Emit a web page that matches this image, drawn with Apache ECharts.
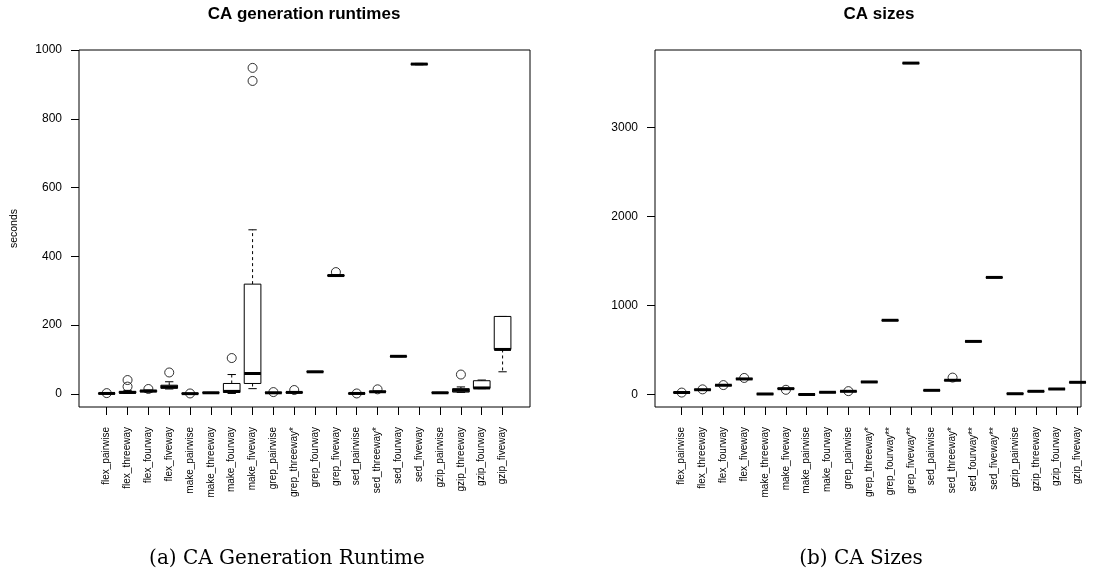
<!DOCTYPE html>
<html>
<head>
<meta charset="utf-8">
<script src="https://cdn.jsdelivr.net/npm/echarts@6/dist/echarts.min.js"></script>
<style>
html,body{margin:0;padding:0;background:#fff;}
#chart{width:1097px;height:577px;}
</style>
</head>
<body>
<div id="chart"></div>
<script>
// ---------- Data: (a) CA generation runtimes (seconds) ----------
const runtimeCategories = ["flex_pairwise","flex_threeway","flex_fourway","flex_fiveway",
  "make_pairwise","make_threeway","make_fourway","make_fiveway",
  "grep_pairwise","grep_threeway*","grep_fourway","grep_fiveway",
  "sed_pairwise","sed_threeway*","sed_fourway","sed_fiveway",
  "gzip_pairwise","gzip_threeway","gzip_fourway","gzip_fiveway"];
const runtimeMin    = [0, 1, 5, 14, 0, 2, 1, 15, 2, 3, 63, 342, 0, 5, 108, 957, 2, 4, 15, 64];
const runtimeQ1     = [0.5, 2, 6, 16, 0, 2.5, 4, 30, 2.5, 3.5, 63.5, 343, 0.5, 5.5, 108.5, 958, 2.5, 5, 16, 129];
const runtimeMedian = [1, 4, 8, 20, 0.5, 3, 7, 59, 3, 4, 64, 344, 1, 6, 109, 959, 3, 10, 17, 129];
const runtimeQ3     = [1.5, 7, 10, 25, 1, 3.5, 30, 319, 3.5, 5, 64.5, 345, 1.5, 7, 109.5, 960, 3.5, 15, 38, 225];
const runtimeMax    = [2, 10, 11, 35, 1, 4, 56, 477, 4, 6, 65, 346, 2, 8, 110, 961, 4, 20, 40, 225];
const runtimeOutliers = [[0, 2], [1, 21], [1, 40], [2, 14], [3, 62], [4, 1], [6, 104],
  [7, 910], [7, 948], [8, 5], [9, 11], [11, 354], [12, 1], [13, 13], [17, 56]];
const runtimeTicks = [0, 200, 400, 600, 800, 1000];

// ---------- Data: (b) CA sizes ----------
const sizeCategories = ["flex_pairwise","flex_threeway","flex_fourway","flex_fiveway",
  "make_threeway","make_fiveway","make_pairwise","make_fourway",
  "grep_pairwise","grep_threeway*","grep_fourway**","grep_fiveway**",
  "sed_pairwise","sed_threeway*","sed_fourway**","sed_fiveway**",
  "gzip_pairwise","gzip_threeway","gzip_fourway","gzip_fiveway"];
const sizeMin    = [22, 53, 103, 174, 6, 65, 1, 25, 35, 141, 833, 3716, 47, 158, 596, 1314, 9, 36, 62, 137];
const sizeQ1     = [24, 55, 105, 176, 7, 67, 2, 26, 37, 142, 834, 3719, 48, 160, 597, 1315, 10, 37, 63, 138];
const sizeMedian = [25, 56, 106, 177, 8, 68, 2, 27, 38, 143, 835, 3721, 49, 162, 598, 1316, 11, 38, 64, 139];
const sizeQ3     = [26, 57, 107, 178, 9, 69, 3, 28, 39, 144, 836, 3723, 50, 164, 599, 1317, 12, 39, 65, 140];
const sizeMax    = [28, 59, 109, 180, 10, 71, 3, 29, 41, 145, 837, 3726, 51, 166, 600, 1318, 13, 40, 66, 141];
const sizeOutliers = [[0, 24], [1, 60], [2, 108], [3, 188], [5, 55], [8, 40], [13, 192]];
const sizeTicks = [0, 1000, 2000, 3000];

// ---------- helpers ----------
function boxRows(mins, q1s, meds, q3s, maxs) {
  return meds.map((m, i) => [i, mins[i], q1s[i], m, q3s[i], maxs[i]]);
}
function renderBox(params, api) {
  const i = api.value(0);
  const lo = api.coord([i, api.value(1)]);
  const q1 = api.coord([i, api.value(2)]);
  const md = api.coord([i, api.value(3)]);
  const q3 = api.coord([i, api.value(4)]);
  const hi = api.coord([i, api.value(5)]);
  const bw = api.size([1, 0])[0] * 0.8;
  const x = md[0];
  const ls = {stroke: '#000', lineWidth: 1, fill: null};
  const dash = {stroke: '#000', lineWidth: 1, lineDash: [3, 3], fill: null};
  return {
    type: 'group',
    children: [
      {type: 'line', shape: {x1: x, y1: q3[1], x2: x, y2: hi[1]}, style: dash},
      {type: 'line', shape: {x1: x, y1: q1[1], x2: x, y2: lo[1]}, style: dash},
      {type: 'line', shape: {x1: x - bw / 4, y1: hi[1], x2: x + bw / 4, y2: hi[1]}, style: ls},
      {type: 'line', shape: {x1: x - bw / 4, y1: lo[1], x2: x + bw / 4, y2: lo[1]}, style: ls},
      {type: 'rect', shape: {x: x - bw / 2, y: q3[1], width: bw, height: q1[1] - q3[1]},
        style: {stroke: '#000', lineWidth: 1, fill: '#fff'}},
      {type: 'line', shape: {x1: x - bw / 2, y1: md[1], x2: x + bw / 2, y2: md[1]},
        style: {stroke: '#000', lineWidth: 3, fill: null}}
    ]
  };
}

const FONT = 'Liberation Sans, Arial, sans-serif';
const SERIF = 'DejaVu Serif, Liberation Serif, serif';
const TOP = 50, H = 357;
const rtMin = -38.4, rtMax = 1000;
const szMin = -138, szMax = 3868;

function frameY(min, max, ticks, name) {
  return {
    type: 'value', min: min, max: max,
    axisLine: {show: false},
    splitLine: {show: false},
    axisTick: {show: true, inside: false, length: 8, lineStyle: {color: '#000'}, customValues: ticks},
    axisLabel: {show: true, margin: 17, fontSize: 12, color: '#000', fontFamily: FONT, customValues: ticks,
      formatter: v => String(v), showMinLabel: true, showMaxLabel: true, hideOverlap: false},
    name: name || '', nameLocation: 'middle', nameRotate: 90, nameGap: 59,
    nameTextStyle: {fontSize: 10.5, color: '#000', fontFamily: FONT}
  };
}
function dataY(min, max) {
  return {type: 'value', min: min, max: max, show: false, splitLine: {show: false}};
}
function catX(cats, gridIndex) {
  return {
    type: 'category', gridIndex: gridIndex, data: cats, boundaryGap: true,
    axisLine: {show: false, onZero: false},
    axisTick: {show: true, alignWithLabel: true, interval: 0, length: 8, lineStyle: {color: '#000'}},
    axisLabel: {rotate: 90, interval: 0, margin: 20, fontSize: 10, color: '#000', fontFamily: FONT},
    splitLine: {show: false}
  };
}

const chart = echarts.init(document.getElementById('chart'), null, {renderer: 'canvas'});
chart.setOption({
  animation: false,
  backgroundColor: '#fff',
  grid: [
    {left: 79, top: TOP, width: 451, height: H, show: true, borderColor: '#000', borderWidth: 1,
      backgroundColor: 'transparent', containLabel: false, outerBoundsMode: 'none'},
    {left: 96.3, top: TOP, width: 416.7, height: H, containLabel: false, outerBoundsMode: 'none'},
    {left: 655, top: TOP, width: 426, height: H, show: true, borderColor: '#000', borderWidth: 1,
      backgroundColor: 'transparent', containLabel: false, outerBoundsMode: 'none'},
    {left: 671.3, top: TOP, width: 416.7, height: H, containLabel: false, outerBoundsMode: 'none'}
  ],
  xAxis: [
    {type: 'value', gridIndex: 0, show: false, min: 0, max: 1, splitLine: {show: false}},
    catX(runtimeCategories, 1),
    {type: 'value', gridIndex: 2, show: false, min: 0, max: 1, splitLine: {show: false}},
    catX(sizeCategories, 3)
  ],
  yAxis: [
    Object.assign(frameY(rtMin, rtMax, runtimeTicks, 'seconds'), {gridIndex: 0}),
    Object.assign(dataY(rtMin, rtMax), {gridIndex: 1}),
    Object.assign(frameY(szMin, szMax, sizeTicks, ''), {gridIndex: 2}),
    Object.assign(dataY(szMin, szMax), {gridIndex: 3})
  ],
  series: [
    {type: 'custom', xAxisIndex: 1, yAxisIndex: 1, renderItem: renderBox,
      data: boxRows(runtimeMin, runtimeQ1, runtimeMedian, runtimeQ3, runtimeMax),
      encode: {x: 0, y: [1, 2, 3, 4, 5]}, clip: false, z: 2},
    {type: 'scatter', xAxisIndex: 1, yAxisIndex: 1, data: runtimeOutliers, symbol: 'circle', symbolSize: 9,
      itemStyle: {color: 'rgba(0,0,0,0)', borderColor: '#000', borderWidth: 1}, z: 3, clip: false},
    {type: 'custom', xAxisIndex: 3, yAxisIndex: 3, renderItem: renderBox,
      data: boxRows(sizeMin, sizeQ1, sizeMedian, sizeQ3, sizeMax),
      encode: {x: 0, y: [1, 2, 3, 4, 5]}, clip: false, z: 2},
    {type: 'scatter', xAxisIndex: 3, yAxisIndex: 3, data: sizeOutliers, symbol: 'circle', symbolSize: 9,
      itemStyle: {color: 'rgba(0,0,0,0)', borderColor: '#000', borderWidth: 1}, z: 3, clip: false}
  ],
  graphic: [
    {type: 'text', x: 304, y: 6, style: {text: 'CA generation runtimes', textAlign: 'center', textVerticalAlign: 'top',
      font: 'bold 17px ' + FONT, fill: '#000'}},
    {type: 'text', x: 879, y: 6, style: {text: 'CA sizes', textAlign: 'center', textVerticalAlign: 'top',
      font: 'bold 17px ' + FONT, fill: '#000'}},
    {type: 'text', x: 287, y: 549, style: {text: '(a) CA Generation Runtime', textAlign: 'center', textVerticalAlign: 'top',
      font: '20px ' + SERIF, fill: '#000'}},
    {type: 'text', x: 861, y: 549, style: {text: '(b) CA Sizes', textAlign: 'center', textVerticalAlign: 'top',
      font: '20px ' + SERIF, fill: '#000'}}
  ]
});
</script>
</body>
</html>
